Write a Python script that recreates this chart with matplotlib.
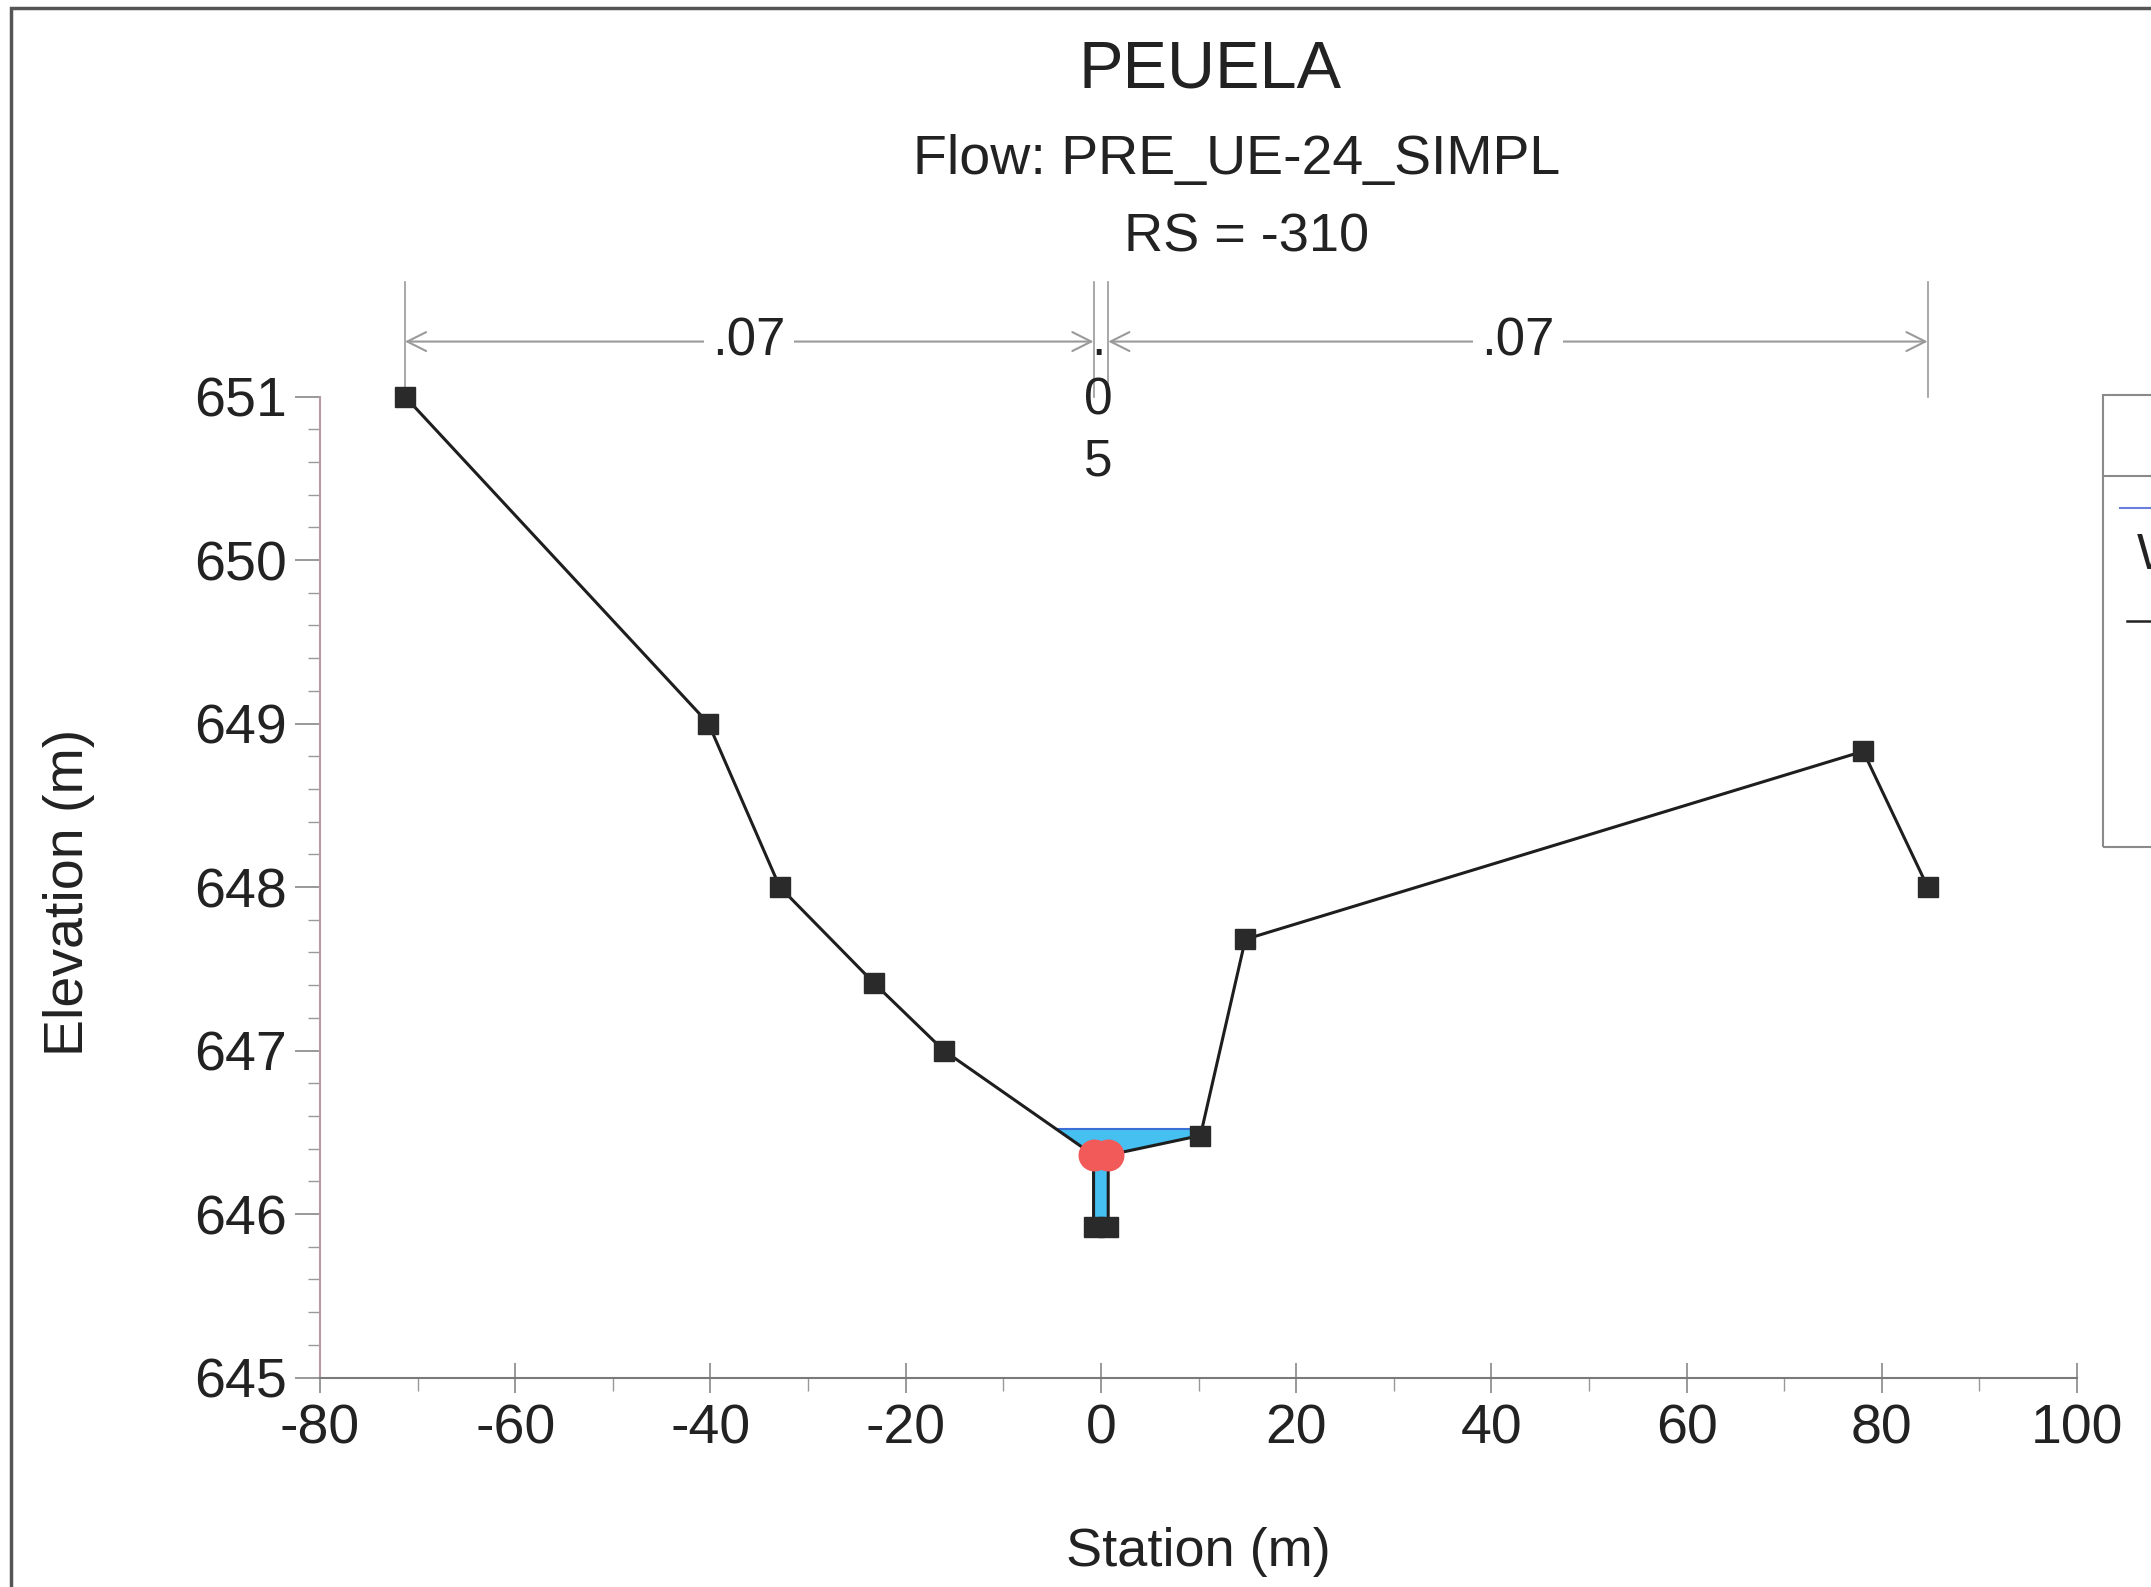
import numpy as np
import matplotlib
matplotlib.use("Agg")
import matplotlib.pyplot as plt
from matplotlib.patches import Rectangle
from matplotlib.lines import Line2D

plt.rcParams['font.family'] = ['Liberation Sans', 'DejaVu Sans']
plt.rcParams['axes.unicode_minus'] = False

# ground survey points (station m, elevation m)
station = [-71.3, -40.2, -32.9, -23.2, -16.1, -0.75, -0.75, 0.75, 0.75, 10.2, 14.8, 78.1, 84.7]
elevation = [651.0, 649.0, 648.0, 647.41, 647.0, 646.36, 645.92, 645.92, 646.36, 646.48, 647.68, 648.83, 648.0]
bank_sta = [-0.75, 0.75]
bank_elev = [646.36, 646.36]
ws_elev = 646.52
# manning n regions
n_edges = [-71.3, -0.75, 0.75, 84.7]
n_labels = ['.07', '.05', '.07']

title = 'PEUELA'
subtitle1 = 'Flow: PRE_UE-24_SIMPL'
subtitle2 = 'RS = -310'

W, H = 2151, 1587
fig = plt.figure(figsize=(W / 100, H / 100), dpi=100)
ax = fig.add_axes([320 / W, 1 - 1377.5 / H, (2077 - 320) / W, (1377.5 - 396.5) / H])

x = np.array(station)
y = np.array(elevation)

# water
ax.fill_between(x, y, ws_elev, where=y <= ws_elev, interpolate=True,
                color='#45c0f0', lw=0, zorder=2)
def crossing(i, j):
    return x[i] + (ws_elev - y[i]) / (y[j] - y[i]) * (x[j] - x[i])
wl = crossing(4, 5)
wr = crossing(9, 10)
ax.plot([wl, wr], [ws_elev, ws_elev], color='#3a6fd8', lw=1.5, zorder=3)

# ground
ax.plot(x, y, color='#1e1e1e', lw=2.2, marker='s', ms=14.5, mfc='#2a2a2a', mec='#2a2a2a',
        zorder=4, clip_on=False)
# bank stations
ax.plot(bank_sta, bank_elev, ls='none', marker='o', ms=23, color='#f25a5a', mec='none', zorder=5)

ax.set_xlim(-80, 100)
ax.set_ylim(645, 651)
ax.set_xticks(np.arange(-80, 101, 20))
ax.set_xticks(np.arange(-80, 101, 10), minor=True)
ax.set_yticks(np.arange(645, 652, 1))
ax.set_yticks(np.arange(645, 651.01, 0.2), minor=True)

for s in ['top', 'right']:
    ax.spines[s].set_visible(False)
ax.spines['bottom'].set_color('#7a7a7a')
ax.spines['left'].set_color('#b89aa2')
ax.spines['bottom'].set_linewidth(1.5)
ax.spines['left'].set_linewidth(1.5)

ax.tick_params(axis='x', which='major', direction='inout', length=22, width=1.2,
               color='#888888', labelsize=40, pad=8, labelcolor='#222222')
ax.tick_params(axis='x', which='minor', direction='out', length=9, width=1.0, color='#999999')
ax.tick_params(axis='y', which='major', direction='out', length=18, width=1.2,
               color='#888888', labelsize=40, pad=6, labelcolor='#222222')
ax.tick_params(axis='y', which='minor', direction='out', length=9, width=1.0, color='#999999')

# n-value dimension lines above the section
ya = 651.336
for xe in n_edges:
    ax.plot([xe, xe], [651.0, 651.70], color='#999999', lw=1.2, clip_on=False, zorder=1)
arr = dict(arrowstyle='<->', color='#9a9a9a', lw=1.5, shrinkA=0, shrinkB=0, mutation_scale=34)
ax.annotate('', xy=(n_edges[0], ya), xytext=(n_edges[1], ya), arrowprops=arr, annotation_clip=False)
ax.annotate('', xy=(n_edges[2], ya), xytext=(n_edges[3], ya), arrowprops=arr, annotation_clip=False)
for k, lab in enumerate(n_labels):
    xm = (n_edges[k] + n_edges[k + 1]) / 2
    if k == 1:
        ax.text(xm - 0.3, 650.97, '\n'.join(lab), ha='center', va='center', fontsize=37,
                color='#222222', linespacing=1.3, clip_on=False)
    else:
        ax.text(xm, ya, lab, ha='center', va='center', fontsize=38, color='#222222',
                bbox=dict(facecolor='white', edgecolor='none', pad=6), clip_on=False, zorder=6)

# titles and axis labels
fig.text(1210 / W, 1 - 71 / H, title, ha='center', va='center', fontsize=48, color='#222222')
fig.text(1237 / W, 1 - 160 / H, subtitle1, ha='center', va='center', fontsize=40, color='#222222')
fig.text(1247 / W, 1 - 237 / H, subtitle2, ha='center', va='center', fontsize=39, color='#222222')
fig.text(1198 / W, 1 - 1552 / H, 'Station (m)', ha='center', va='center', fontsize=39, color='#222222')
fig.text(69 / W, 1 - 892 / H, 'Elevation (m)', ha='center', va='center', rotation=90,
         fontsize=40, color='#222222')

# frame around the plot window
fig.patches.append(Rectangle((11 / W, -0.1), 1.2, 1.1 - 8 / H, transform=fig.transFigure,
                             fill=False, edgecolor='#555555', lw=2.5))

# legend box (cut off at the right edge)
lx = 2103 / W
fig.patches.append(Rectangle((lx, 1 - 847 / H), 0.2, (847 - 395) / H, transform=fig.transFigure,
                             fill=False, edgecolor='#8a8a8a', lw=1.5))
fig.lines.append(Line2D([lx, 1.1], [1 - 476 / H, 1 - 476 / H], transform=fig.transFigure,
                        color='#8a8a8a', lw=1.5))
fig.lines.append(Line2D([2120 / W, 1.1], [1 - 508 / H, 1 - 508 / H], transform=fig.transFigure,
                        color='#6a7ee0', lw=1.5))
fig.text(2137 / W, 1 - 556 / H, 'WS PF 1', ha='left', va='center', fontsize=36, color='#222222')
fig.lines.append(Line2D([2127 / W, 1.1], [1 - 621 / H, 1 - 621 / H], transform=fig.transFigure,
                        color='#222222', lw=1.8))

fig.savefig('out.png', dpi=100, facecolor='white')
